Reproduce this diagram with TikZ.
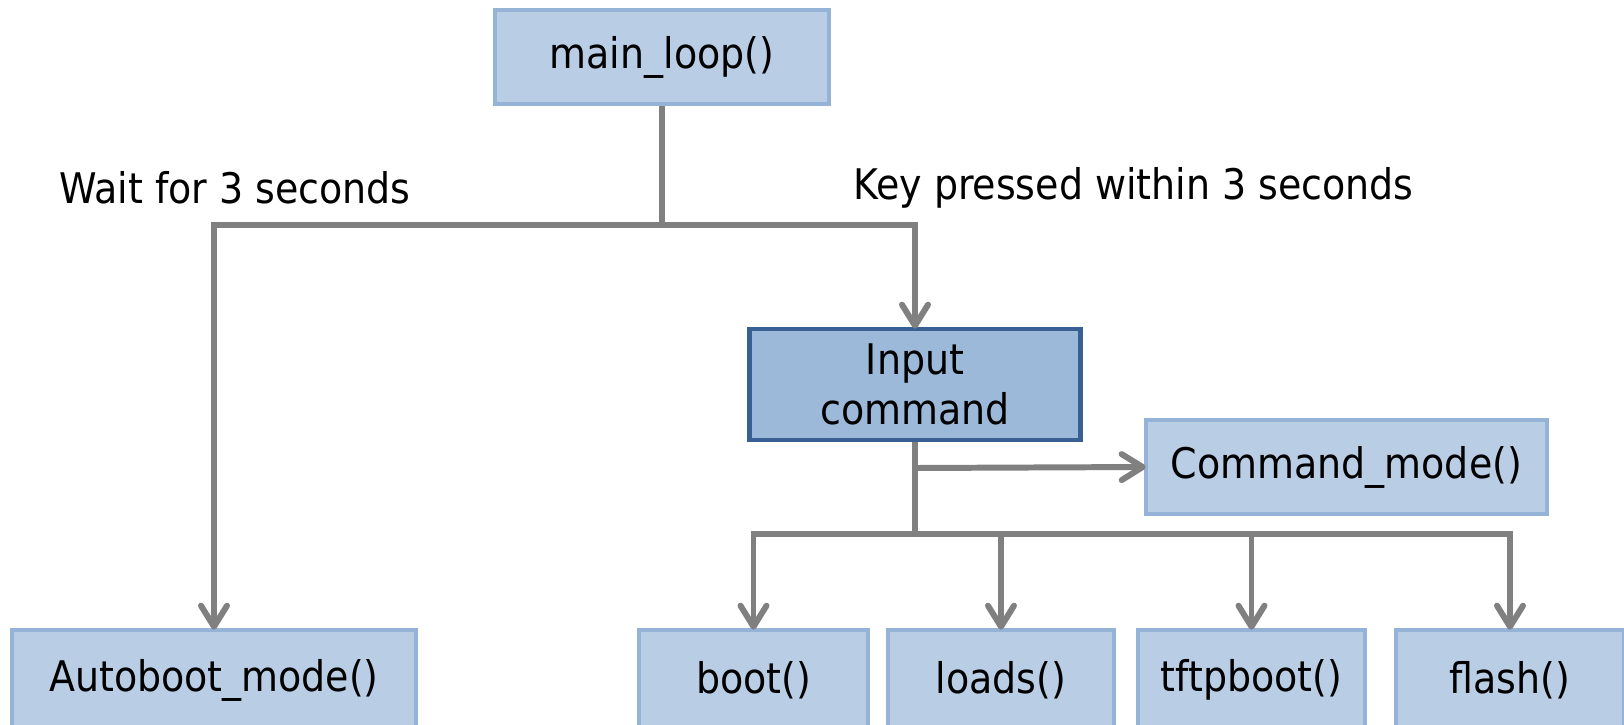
\documentclass[tikz,border=0pt]{standalone}
\usepackage{fontspec}
\setmainfont{DejaVu Sans Condensed}
\usetikzlibrary{arrows.meta}
\definecolor{boxfill}{RGB}{185,205,229}
\definecolor{boxedge}{RGB}{149,179,215}
\definecolor{cmdfill}{RGB}{157,185,218}
\definecolor{cmdedge}{RGB}{56,96,146}
\definecolor{linegray}{RGB}{128,128,128}

\begin{document}
\begin{tikzpicture}[
    func/.style={draw=boxedge, fill=boxfill, line width=1.4pt, minimum height=0.94cm, inner sep=0pt, font=\fontsize{12}{14.2}\selectfont},
    link/.style={draw=linegray, line width=1.7pt},
    arr/.style={link, -{Straight Barb[length=2.1mm, width=2.6mm, round]}, shorten >=-0.6pt},
    lbl/.style={font=\fontsize{12}{14.2}\selectfont, inner sep=0pt}
]
\useasboundingbox (0,0) rectangle (16.24,-7.24);

% boxes
\node[func, minimum width=3.34cm] (main) at (6.62,-0.57) {main\_loop()};
\node[func, draw=cmdedge, fill=cmdfill, minimum width=3.31cm, minimum height=1.11cm, align=center] (input) at (9.15,-3.845) {Input\\command};
\node[func, minimum width=4.01cm] (cmd) at (13.465,-4.67) {Command\_mode()};
\node[func, minimum width=4.04cm, minimum height=1.0cm] (auto) at (2.14,-6.80) {Autoboot\_mode()};
\node[func, minimum width=2.29cm, minimum height=1.0cm] (boot) at (7.535,-6.80) {boot()};
\node[func, minimum width=2.26cm, minimum height=1.0cm] (loads) at (10.01,-6.80) {loads()};
\node[func, minimum width=2.27cm, minimum height=1.0cm] (tftp) at (12.515,-6.80) {tftpboot()};
\node[func, minimum width=2.28cm, minimum height=1.0cm] (flash) at (15.10,-6.80) {flash()};

% labels
\node[lbl] (waitlbl) at (2.35,-1.88) {Wait for 3 seconds};
\node[lbl] (keylbl) at (11.335,-1.88) {Key pressed within 3 seconds};

% connectors
\coordinate (split) at (6.62,-2.25);
\coordinate (tap) at (9.15,-4.68);
\coordinate (fork) at (9.15,-5.34);

\draw[link] (main.south) -- (split);
\draw[arr] (split) -| (auto.north);
\draw[arr] (split) -| (input.north);
\draw[link] (input.south) -- (fork);
\draw[arr] (tap) -- (cmd.west);
\foreach \f in {boot,loads,tftp,flash}
    \draw[arr] (fork) -| (\f.north);
\end{tikzpicture}
\end{document}
